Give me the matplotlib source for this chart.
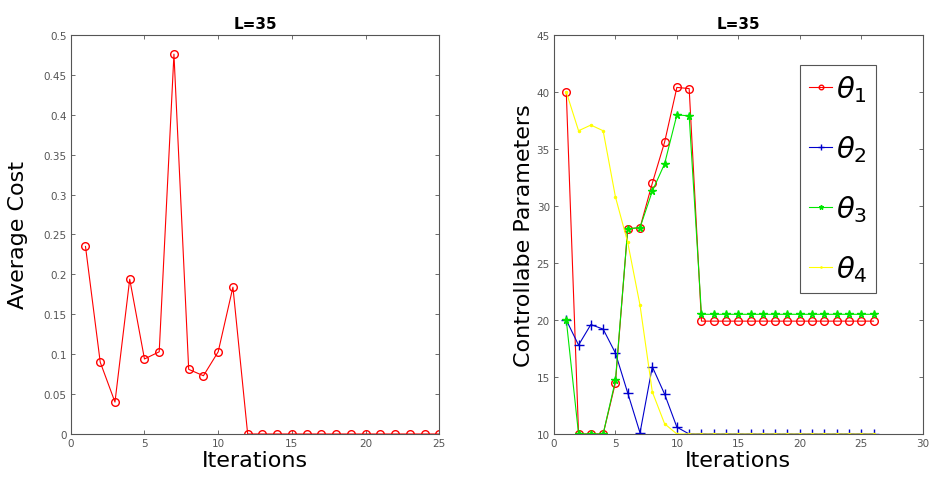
import matplotlib.pyplot as plt

# Left panel: average cost per iteration
iters_cost = list(range(1, 26))
avg_cost = [0.235, 0.090, 0.040, 0.194, 0.094, 0.103, 0.476, 0.081, 0.073, 0.103, 0.184,
            0, 0, 0, 0, 0, 0, 0, 0, 0, 0, 0, 0, 0, 0]

# Right panel: controllable parameters per iteration
iters_par = list(range(1, 27))
theta1 = [40.0, 10.0, 10.0, 10.0, 14.5, 28.0, 28.1, 32.0, 35.6, 40.4, 40.3] + [19.9] * 15
theta2 = [20.0, 17.8, 19.6, 19.2, 17.1, 13.6, 10.1, 15.9, 13.5, 10.6, 10.0] + [10.0] * 15
theta3 = [20.0, 10.0, 10.0, 10.0, 14.7, 28.0, 28.1, 31.3, 33.7, 38.0, 37.9] + [20.5] * 15
theta4 = [40.0, 36.6, 37.1, 36.6, 30.8, 26.8, 21.3, 13.7, 10.9, 10.0, 10.0] + [10.0] * 15

axis_col = '#555555'
tick_col = '#555555'

fig = plt.figure(figsize=(9.32, 4.85), dpi=100)
ax1 = fig.add_axes([0.0759, 0.1031, 0.3955, 0.8227])
ax2 = fig.add_axes([0.5944, 0.1031, 0.3956, 0.8227])


def matlab_style(ax):
    for s in ax.spines.values():
        s.set_color(axis_col)
        s.set_linewidth(0.8)
    ax.tick_params(direction='in', top=True, right=True, length=3, width=0.6,
                   labelsize=7.5, pad=3, colors=axis_col, labelcolor=tick_col)


ax1.plot(iters_cost, avg_cost, color='red', marker='o', markersize=5.5,
         markerfacecolor='none', linewidth=0.8)
ax1.set_xlim(0, 25)
ax1.set_ylim(0, 0.5)
ax1.set_xticks(range(0, 26, 5))
ax1.set_yticks([i * 0.05 for i in range(11)])
ax1.set_yticklabels(['0', '0.05', '0.1', '0.15', '0.2', '0.25', '0.3', '0.35', '0.4', '0.45', '0.5'])
ax1.set_title('L=35', fontsize=11, fontweight='bold', pad=5)
ax1.set_xlabel('Iterations', fontsize=16, labelpad=1)
ax1.set_ylabel('Average Cost', fontsize=16, labelpad=11)
matlab_style(ax1)

ax2.plot(iters_par, theta1, color='red', marker='o', markersize=5.5,
         markerfacecolor='none', linewidth=0.8, label=r'$\theta_1$')
ax2.plot(iters_par, theta2, color='#0000cc', marker='+', markersize=7,
         linewidth=0.8, label=r'$\theta_2$')
ax2.plot(iters_par, theta3, color='#00e600', marker='*', markersize=5.5,
         linewidth=0.8, label=r'$\theta_3$')
ax2.plot(iters_par, theta4, color='#ffff00', marker='.', markersize=3,
         linewidth=0.8, label=r'$\theta_4$')
ax2.set_xlim(0, 30)
ax2.set_ylim(10, 45)
ax2.set_xticks(range(0, 31, 5))
ax2.set_yticks(range(10, 46, 5))
ax2.set_title('L=35', fontsize=11, fontweight='bold', pad=5)
ax2.set_xlabel('Iterations', fontsize=16, labelpad=1)
ax2.set_ylabel('Controllabe Parameters', fontsize=16, labelpad=2)
matlab_style(ax2)

leg = ax2.legend(loc='upper left', bbox_to_anchor=(0.668, 0.925), fontsize=21,
                 handlelength=0.8, handletextpad=0.12, labelspacing=1.0,
                 borderpad=0.3, borderaxespad=0, fancybox=False, framealpha=1,
                 markerscale=0.6)
leg.get_frame().set_edgecolor(axis_col)
leg.get_frame().set_linewidth(0.8)

fig.savefig('out.png', dpi=100)
